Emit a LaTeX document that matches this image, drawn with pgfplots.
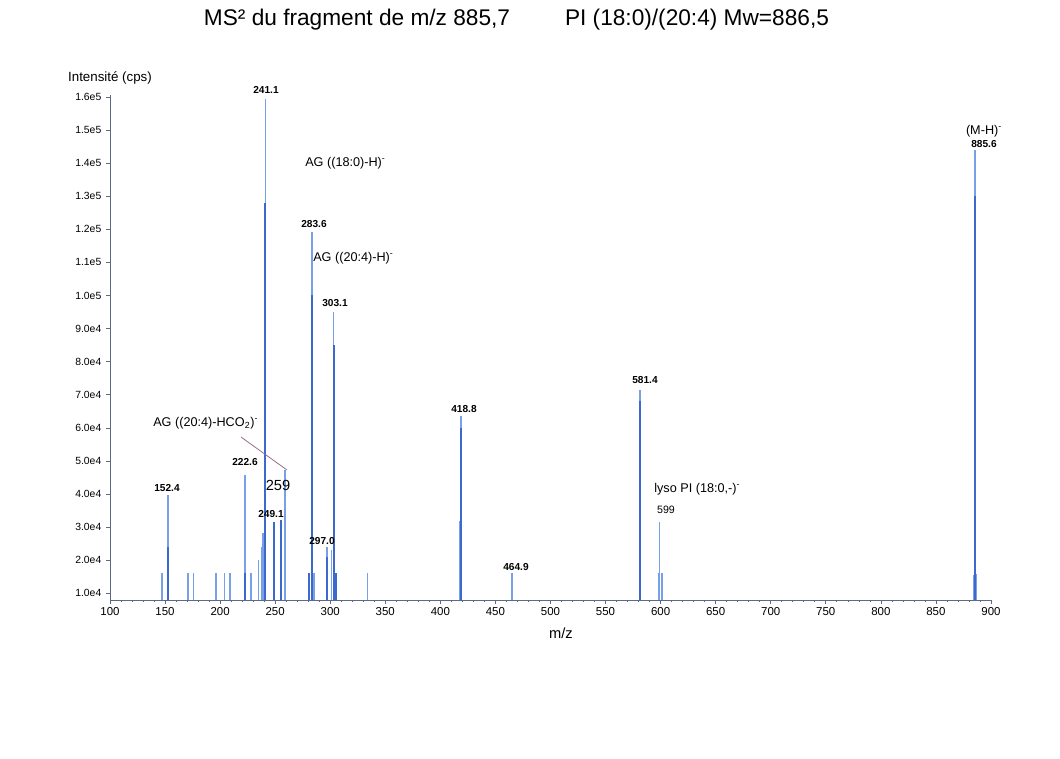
\documentclass[border=0pt]{standalone}
\usepackage{pgfplots}
\pgfplotsset{compat=1.18}
\usepackage{fontspec}
\setmainfont{Liberation Sans}
\definecolor{dk}{RGB}{60,105,205}
\definecolor{lt}{RGB}{120,160,230}
\definecolor{ax}{RGB}{95,105,135}
\definecolor{ln}{RGB}{150,110,140}
\begin{document}
\begin{tikzpicture}
\begin{axis}[
  at={(82.5pt,-450pt)}, anchor=south west,
  scale only axis, width=660.75pt, height=378.6pt,
  xmin=100, xmax=900, ymin=8000, ymax=160500,
  axis lines=left, axis line style={-, draw=ax, line width=0.6pt},
  xtick={100,150,...,900}, minor x tick num=4,
  ytick={10000,20000,...,160000},
  scaled y ticks=false, scaled x ticks=false,
  yticklabels={1.0e4,2.0e4,3.0e4,4.0e4,5.0e4,6.0e4,7.0e4,8.0e4,9.0e4,1.0e5,1.1e5,1.2e5,1.3e5,1.4e5,1.5e5,1.6e5},
  tick style={draw=ax, line width=0.5pt}, tick align=outside,
  major tick length=3pt, minor tick length=1.5pt,
  /pgf/number format/assume math mode=true,
  /pgf/number format/1000 sep={},
  x tick label style={font=\fontsize{8.6}{10}\selectfont, yshift=1pt},
  y tick label style={font=\fontsize{7.8}{9}\selectfont},
  clip=true,
]
\addplot[ycomb, lt, line width=1.2pt] coordinates {
 (147,16200) (152.4,39800) (171,16200) (176,16200) (196,16200) (204,16200) (209,16200)
 (222.6,45800) (228,16200) (235,20000) (237.5,24000) (239,28300) (241.1,159500)
 (249.1,31700) (255.5,32200) (259,47300) (281,16200) (283.6,119200) (285,16200)
 (297.0,24100) (301,23000) (303.1,95000) (305,16200) (334,16200)
 (417.5,32000) (418.8,63600) (464.9,16200)
 (581.4,71300) (598,16200) (599,31700) (601,16200)
 (884,15600) (885.6,144000) (887,16000)
};
\addplot[ycomb, dk, line width=1.4pt] coordinates {
 (152.4,24000) (222.6,16200) (241.1,128000) (249.1,31700) (255.5,32200)
 (281,16200) (283.6,100000) (297.0,21000) (303.1,85000) (305,16200)
 (418.8,60000) (581.4,68000) (885.6,130000)
};
\end{axis}
\begin{scope}[x=0.75pt, y=-0.75pt]
\path (0,0) rectangle (1060,758);
\node[font=\fontsize{17}{20}\selectfont] at (357,20) {MS² du fragment de m/z 885,7};
\node[font=\fontsize{17}{20}\selectfont] at (697,20) {PI (18:0)/(20:4) Mw=886,5};
\node[font=\fontsize{10}{12}\selectfont] at (110,78) {Intensité (cps)};
\node[font=\fontsize{11}{13}\selectfont] at (561,633) {m/z};
\begin{scope}[every node/.style={font=\bfseries\fontsize{7.6}{9}\selectfont, inner sep=0pt}]
\node at (266,90) {241.1};
\node at (314,224) {283.6};
\node at (335,303) {303.1};
\node at (245,462) {222.6};
\node at (271,514) {249.1};
\node at (167,488) {152.4};
\node at (322,541) {297.0};
\node at (464,409) {418.8};
\node at (516,567) {464.9};
\node at (645,380) {581.4};
\node at (984,144) {885.6};
\end{scope}
\begin{scope}[every node/.style={font=\fontsize{9.5}{11}\selectfont, inner sep=0pt}]
\node[anchor=west] at (305,163) {AG ((18:0)-H)\textsuperscript{-}};
\node[anchor=west] at (313,258) {AG ((20:4)-H)\textsuperscript{-}};
\node[anchor=west] at (153,423) {AG ((20:4)-HCO\textsubscript{2})\textsuperscript{-}};
\node[anchor=west] at (654,489) {lyso PI (18:0,-)\textsuperscript{-}};
\node at (984,131) {(M-H)\textsuperscript{-}};
\node[font=\fontsize{11}{13}\selectfont] at (278,485) {259};
\node[font=\fontsize{8}{10}\selectfont] at (666,510) {599};
\end{scope}
\draw[ln, line width=0.6pt] (241,437) -- (287,470);
\end{scope}
\end{tikzpicture}
\end{document}
